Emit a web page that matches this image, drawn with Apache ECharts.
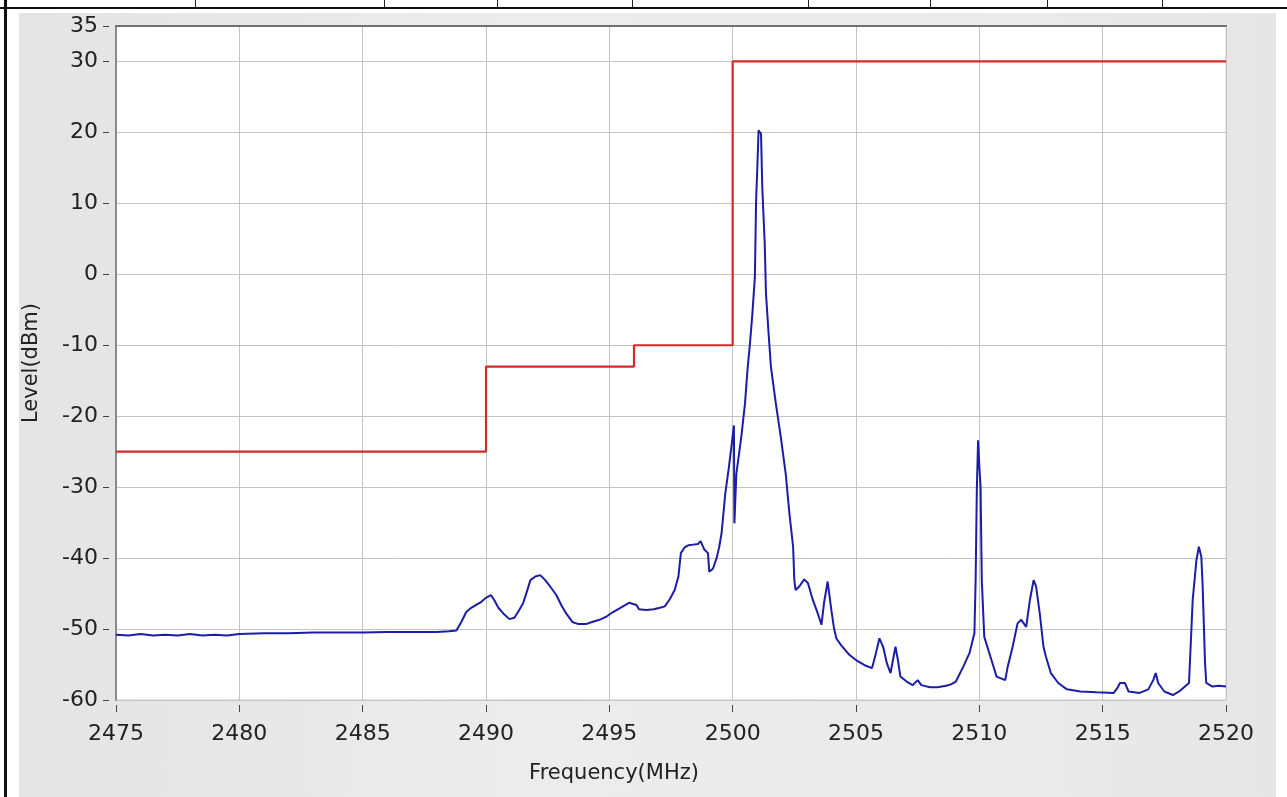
<!DOCTYPE html>
<html>
<head>
<meta charset="utf-8">
<script src="https://cdn.jsdelivr.net/npm/echarts@6.0.0/dist/echarts.min.js"></script>
<style>
  html, body { margin: 0; padding: 0; background: #ffffff; }
  #wrap { position: relative; width: 1287px; height: 797px; overflow: hidden; background: #fff; }
  #panel { position: absolute; left: 19px; top: 13px; width: 1257px; height: 784px;
           background: linear-gradient(90deg, #e4e4e4 0%, #ececec 40%, #eaeaea 80%, #e6e6e6 100%); }
  .hline { position: absolute; left: 0; top: 7px; width: 1287px; height: 2px; background: #111; }
  .vline { position: absolute; left: 4px; top: 0; width: 3px; height: 797px; background: #111; }
  .div { position: absolute; top: 0; width: 1px; height: 8px; background: #222; }
  #chart { position: absolute; left: 0; top: 0; width: 1287px; height: 797px; }
</style>
</head>
<body>
<div id="wrap">
  <div id="panel"></div>
  <div class="hline"></div>
  <div class="vline"></div>
  <div id="chart"></div>
</div>
<script>
// ---- data ----
const traceFreq = [
  2475.0, 2475.5, 2476.0, 2476.5, 2477.0, 2477.5, 2478.0, 2478.5, 2479.0, 2479.5,
  2480.0, 2481.0, 2482.0, 2483.0, 2484.0, 2485.0, 2486.0, 2487.0, 2488.0, 2488.5,
  2488.8, 2489.0, 2489.2, 2489.4, 2489.6, 2489.8, 2490.0, 2490.2, 2490.35, 2490.5,
  2490.7, 2490.95, 2491.15, 2491.3, 2491.5, 2491.65, 2491.8, 2492.0, 2492.2, 2492.4,
  2492.6, 2492.85, 2493.05, 2493.25, 2493.5, 2493.75, 2494.05, 2494.3, 2494.6, 2494.9,
  2495.15, 2495.5, 2495.8, 2496.1, 2496.2, 2496.5, 2496.8, 2497.05, 2497.25, 2497.45,
  2497.65, 2497.8, 2497.9, 2498.05, 2498.2, 2498.4, 2498.6, 2498.7, 2498.85, 2499.0,
  2499.05, 2499.2, 2499.35, 2499.45, 2499.55, 2499.7, 2499.85, 2499.95, 2500.05, 2500.07,
  2500.15, 2500.35, 2500.5, 2500.6, 2500.7, 2500.8, 2500.9, 2500.95, 2501.0, 2501.05,
  2501.1, 2501.15, 2501.2, 2501.3, 2501.35, 2501.45, 2501.55, 2501.75, 2501.95, 2502.15,
  2502.3, 2502.45, 2502.5, 2502.55, 2502.7, 2502.9, 2503.05, 2503.25, 2503.45, 2503.6,
  2503.7, 2503.85, 2504.0, 2504.1, 2504.2, 2504.4, 2504.75, 2505.05, 2505.35, 2505.65,
  2505.8, 2505.95, 2506.1, 2506.25, 2506.4, 2506.6, 2506.7, 2506.8, 2507.05, 2507.3,
  2507.5, 2507.65, 2508.0, 2508.3, 2508.65, 2508.85, 2509.05, 2509.35, 2509.6, 2509.8,
  2509.85, 2509.9, 2509.95, 2510.0, 2510.05, 2510.1, 2510.2, 2510.45, 2510.7, 2511.05,
  2511.15, 2511.35, 2511.55, 2511.7, 2511.9, 2512.05, 2512.2, 2512.3, 2512.45, 2512.6,
  2512.7, 2512.9, 2513.2, 2513.55, 2514.1, 2514.75, 2515.45, 2515.6, 2515.7, 2515.9,
  2516.05, 2516.5, 2516.85, 2517.05, 2517.15, 2517.25, 2517.5, 2517.85, 2518.1, 2518.5,
  2518.65, 2518.8, 2518.9, 2519.0, 2519.05, 2519.15, 2519.2, 2519.45, 2519.7, 2520.0
];
const traceLevel = [
  -50.8, -50.9, -50.7, -50.9, -50.8, -50.9, -50.7, -50.9, -50.8, -50.9,
  -50.7, -50.6, -50.6, -50.5, -50.5, -50.5, -50.4, -50.4, -50.4, -50.3,
  -50.2, -49.0, -47.6, -47.0, -46.6, -46.2, -45.6, -45.2, -46.0, -47.0,
  -47.8, -48.6, -48.4, -47.6, -46.4, -44.8, -43.1, -42.6, -42.4, -43.1,
  -44.0, -45.2, -46.6, -47.8, -49.0, -49.3, -49.3, -49.0, -48.7, -48.2,
  -47.6, -46.9, -46.3, -46.6, -47.2, -47.3, -47.2, -47.0, -46.8, -45.8,
  -44.5, -42.6, -39.3, -38.5, -38.2, -38.1, -38.0, -37.6, -38.8, -39.3,
  -41.9, -41.5, -40.0, -38.5, -36.5, -30.9, -27.1, -24.3, -21.3, -35.1,
  -28.1, -22.9, -18.2, -13.5, -9.8, -5.5, -0.4, 10.4, 15.1, 20.3,
  20.5, 19.8, 12.3, 4.3, -2.7, -8.0, -13.0, -18.2, -22.9, -28.1,
  -33.7, -38.4, -43.1, -44.5, -44.0, -43.0, -43.5, -45.9, -47.8, -49.4,
  -46.4, -43.3, -47.3, -49.7, -51.3, -52.3, -53.7, -54.5, -55.1, -55.5,
  -53.5, -51.3, -52.5, -54.8, -56.2, -52.5, -54.4, -56.7, -57.4, -57.9,
  -57.2, -57.9, -58.2, -58.2, -58.0, -57.8, -57.4, -55.3, -53.4, -50.6,
  -43.1, -30.0, -23.4, -27.1, -30.0, -43.1, -51.1, -53.9, -56.7, -57.2,
  -55.3, -52.5, -49.2, -48.7, -49.7, -45.9, -43.1, -44.0, -47.8, -52.5,
  -53.9, -56.2, -57.6, -58.5, -58.8, -58.9, -59.0, -58.3, -57.6, -57.6,
  -58.8, -59.0, -58.5, -57.2, -56.2, -57.6, -58.8, -59.3, -58.8, -57.6,
  -45.9, -40.3, -38.4, -39.8, -43.6, -54.8, -57.6, -58.1, -58.0, -58.1
];
const limitFreq = [2475, 2490, 2496, 2500, 2520];
const limitLevel = [-25, -13, -10, 30, 30];
const xMin = 2475, xMax = 2520, xStep = 5;
const yMin = -60, yMax = 35, yStep = 10;
const xName = 'Frequency(MHz)';
const yName = 'Level(dBm)';
const dividerX = [195, 384, 497, 632, 808, 930, 1047, 1162];

// ---- decoration ----
const wrap = document.getElementById('wrap');
dividerX.forEach(function (x) {
  const d = document.createElement('div');
  d.className = 'div';
  d.style.left = x + 'px';
  wrap.appendChild(d);
});

// ---- chart ----
const chart = echarts.init(document.getElementById('chart'), null, { renderer: 'canvas' });
const font = 'DejaVu Sans';
const traceData = traceFreq.map(function (f, i) { return [f, traceLevel[i]]; });
const limitData = limitFreq.map(function (f, i) { return [f, limitLevel[i]]; });
const plain = function (v) { return String(v); };

chart.setOption({
  animation: false,
  backgroundColor: 'transparent',
  grid: {
    left: 116, right: 61, top: 26, bottom: 97,
    show: true, backgroundColor: '#ffffff', borderColor: '#cfcfcf', borderWidth: 1
  },
  xAxis: [{
    type: 'value', min: xMin, max: xMax, interval: xStep,
    offset: 5,
    axisLine: { show: false, onZero: false },
    axisTick: { show: true, length: 7, lineStyle: { color: '#444', width: 1 } },
    axisLabel: { margin: 18, color: '#222', fontFamily: font, fontSize: 22, formatter: plain },
    splitLine: { show: true, lineStyle: { color: '#c4c4c4', width: 1 } },
    name: xName, nameLocation: 'middle', nameGap: 58,
    nameTextStyle: { color: '#222', fontFamily: font, fontSize: 21, padding: [0, 114, 0, 0] }
  }, {
    type: 'value', min: xMin, max: xMax, position: 'top',
    axisLine: { show: true, onZero: false, lineStyle: { color: '#707070', width: 2 } },
    axisTick: { show: false }, axisLabel: { show: false }, splitLine: { show: false }
  }],
  yAxis: [{
    type: 'value', min: yMin, max: yMax, interval: yStep,
    offset: 7,
    axisLine: { show: false, onZero: false },
    axisTick: { show: true, length: 6, lineStyle: { color: '#444', width: 1 } },
    axisLabel: { margin: 11, color: '#222', fontFamily: font, fontSize: 22, formatter: plain },
    splitLine: { show: true, lineStyle: { color: '#c4c4c4', width: 1 } },
    name: yName, nameLocation: 'middle', nameGap: 67,
    nameTextStyle: { color: '#222', fontFamily: font, fontSize: 21 }
  }, {
    type: 'value', min: yMin, max: yMax, position: 'left', offset: 0,
    axisLine: { show: true, onZero: false, lineStyle: { color: '#8a8a8a', width: 2 } },
    axisTick: { show: false }, axisLabel: { show: false }, splitLine: { show: false }
  }],
  series: [{
    name: 'Limit', type: 'line', step: 'end', data: limitData,
    showSymbol: false, symbol: 'none',
    lineStyle: { color: '#d42a2a', width: 2.2 },
    xAxisIndex: 0, yAxisIndex: 0, z: 2
  }, {
    name: 'Trace', type: 'line', data: traceData,
    showSymbol: false, symbol: 'none',
    lineStyle: { color: '#1c1ca8', width: 2 },
    xAxisIndex: 0, yAxisIndex: 0, z: 3
  }]
});
</script>
</body>
</html>
